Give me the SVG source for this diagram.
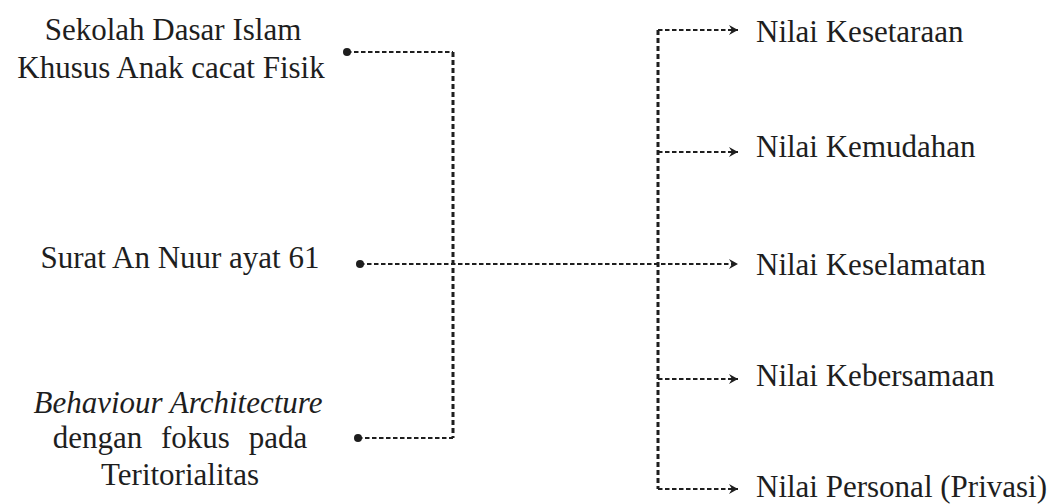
<svg xmlns="http://www.w3.org/2000/svg" width="1059" height="504" viewBox="0 0 1059 504">
<style>
.t{font-family:"Liberation Serif","Times New Roman",serif;font-size:31px;fill:#1e1e1e}
.c{text-anchor:middle}
.h{fill:none;stroke:#1e1e1e;stroke-width:2;stroke-dasharray:4.5 2.5}
.v{fill:none;stroke:#1e1e1e;stroke-width:3;stroke-dasharray:5 3}
.dot{fill:#1e1e1e}
</style>
<defs>
<marker id="arr" markerUnits="userSpaceOnUse" markerWidth="12" markerHeight="12" refX="9" refY="5" orient="auto">
<path d="M0,0 L9,5 L0,10 L3,5 z" fill="#1e1e1e"/>
</marker>
</defs>
<rect width="1059" height="504" fill="#ffffff"/>
<g id="connectors">
<path class="h" d="M347,52 H453"/>
<path class="h" d="M358,438 H453"/>
<path class="v" d="M453,52 V438"/>
<path class="h" d="M360,264 H738" marker-end="url(#arr)"/>
<path class="v" d="M658,30 V489"/>
<path class="h" d="M658,30 H738" marker-end="url(#arr)"/>
<path class="h" d="M658,152 H738" marker-end="url(#arr)"/>
<path class="h" d="M658,379 H738" marker-end="url(#arr)"/>
<path class="h" d="M658,489 H738" marker-end="url(#arr)"/>
<circle class="dot" cx="347" cy="52" r="4"/>
<circle class="dot" cx="360" cy="264" r="4"/>
<circle class="dot" cx="358" cy="438" r="4"/>
</g>
<g id="node-sekolah">
<text class="t c" x="173" y="40">Sekolah Dasar Islam</text>
<text class="t c" x="171" y="78">Khusus Anak cacat Fisik</text>
</g>
<g id="node-surat">
<text class="t c" x="180" y="268">Surat An Nuur ayat 61</text>
</g>
<g id="node-behaviour">
<text class="t c" x="178" y="413" font-style="italic">Behaviour Architecture</text>
<text class="t c" x="180" y="448" word-spacing="11">dengan fokus pada</text>
<text class="t c" x="180" y="485">Teritorialitas</text>
</g>
<g id="node-kesetaraan"><text class="t" x="756" y="42">Nilai Kesetaraan</text></g>
<g id="node-kemudahan"><text class="t" x="756" y="157">Nilai Kemudahan</text></g>
<g id="node-keselamatan"><text class="t" x="756" y="275">Nilai Keselamatan</text></g>
<g id="node-kebersamaan"><text class="t" x="756" y="386">Nilai Kebersamaan</text></g>
<g id="node-personal"><text class="t" x="756" y="497">Nilai Personal (Privasi)</text></g>
</svg>
